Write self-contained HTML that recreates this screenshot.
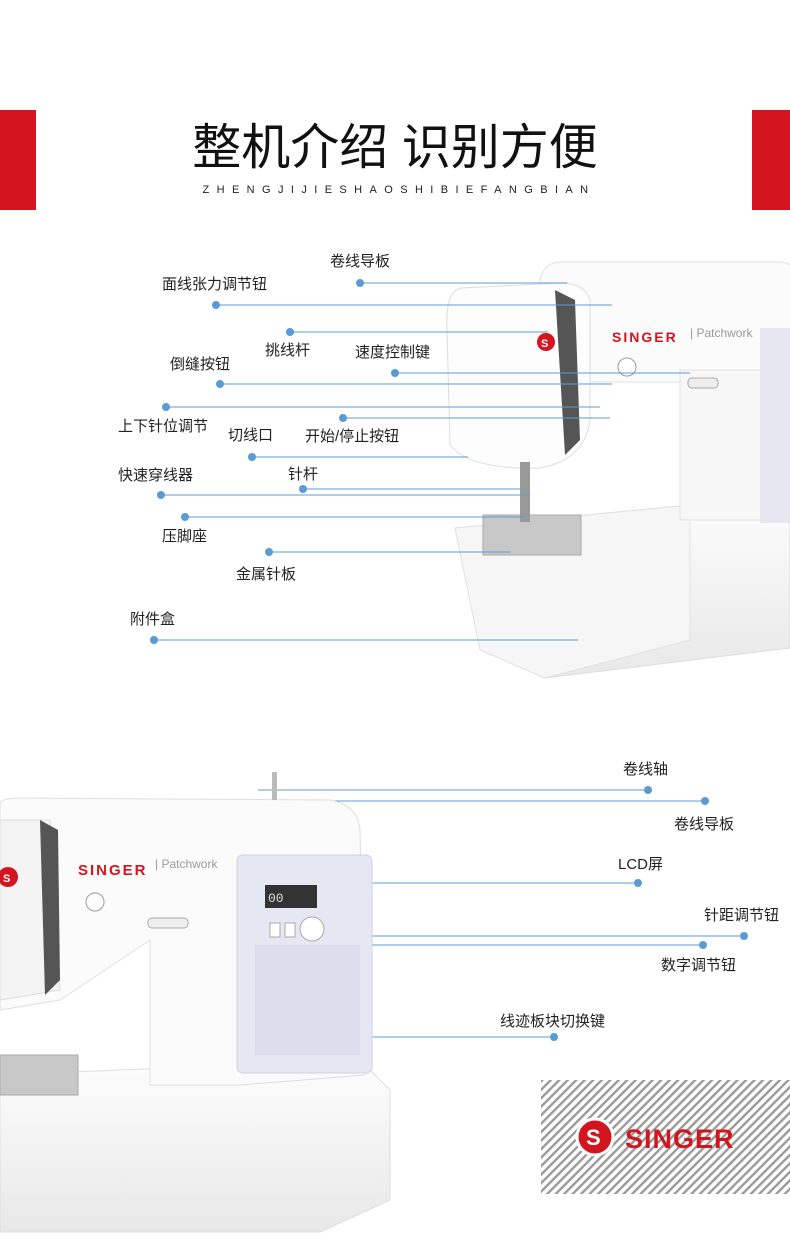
<!DOCTYPE html>
<html><head><meta charset="utf-8"><style>
body{margin:0;background:#fff;}
#w{position:relative;width:790px;height:1252px;overflow:hidden;background:#fff;font-family:"Liberation Sans","Noto Sans CJK SC",sans-serif;}
.t{position:absolute;font-size:15px;color:#222;white-space:nowrap;line-height:18px;}
svg{position:absolute;left:0;top:0;}
</style></head><body><div id="w">
<div style="position:absolute;left:0;top:110px;width:36px;height:100px;background:#d3151f"></div>
<div style="position:absolute;left:752px;top:110px;width:38px;height:100px;background:#d3151f"></div>
<div class="t" style="left:0;width:790px;text-align:center;top:118px;font-size:49px;line-height:60px;color:#111;">整机介绍 识别方便</div>
<div class="t" style="left:4px;width:790px;text-align:center;top:181px;font-size:11px;letter-spacing:7.4px;color:#222;">ZHENGJIJIESHAOSHIBIEFANGBIAN</div>

<svg width="790" height="1252" viewBox="0 0 790 1252">
<defs>
<pattern id="st" width="6" height="6" patternUnits="userSpaceOnUse" patternTransform="rotate(45)"><rect width="6" height="6" fill="#fff"/><rect width="2.4" height="6" fill="#9a9a9a"/></pattern>
<linearGradient id="g1" x1="0" y1="0" x2="0" y2="1"><stop offset="0" stop-color="#fdfdfd"/><stop offset="1" stop-color="#e8e8e8"/></linearGradient>
</defs>
<path d="M455 528 L790 495 L790 648 L545 678 L480 650 Z" fill="url(#g1)" stroke="#ddd"/>
<path d="M455 528 L690 505 L690 640 L545 678 L480 650 Z" fill="#f6f6f6" stroke="#e2e2e2"/>
<rect x="540" y="262" width="260" height="120" rx="20" fill="#fbfbfb" stroke="#e0e0e0"/>
<rect x="680" y="370" width="110" height="150" fill="#f7f7f7" stroke="#e2e2e2"/>
<rect x="760" y="328" width="30" height="195" fill="#e6e7f1"/>
<path d="M462 288 Q445 290 447 330 L450 445 Q470 470 540 468 Q585 460 590 420 L590 300 Q585 283 560 283 Z" fill="#fdfdfd" stroke="#dcdcdc"/>
<path d="M555 290 L575 300 L580 440 L565 455 Z" fill="#555"/>
<rect x="483" y="515" width="98" height="40" fill="#c8c8c8" stroke="#aaa"/>
<rect x="520" y="462" width="10" height="60" fill="#999"/>
<circle cx="546" cy="342" r="9" fill="#d3151f"/>
<text x="541" y="347" font-size="11" fill="#fff" font-weight="bold" font-family="Liberation Sans">S</text>
<text x="612" y="342" font-size="14" fill="#d3151f" font-weight="bold" letter-spacing="2" font-family="Liberation Sans">SINGER</text>
<text x="690" y="337" font-size="12" fill="#999" font-family="Liberation Sans">| Patchwork</text>
<circle cx="627" cy="367" r="9" fill="#fff" stroke="#999"/>
<rect x="688" y="378" width="30" height="10" rx="4" fill="#eee" stroke="#aaa"/>
<g stroke="#5b9bd5" stroke-width="1" fill="none">
<path d="M360 283H567M216 305H612M290 332H548M395 373H690M220 384H612M166 407H600M252 457H468M343 418H610M161 495H530M303 489H520M185 517H525M269 552H510M154 640H578"/>
<path d="M258 790H648M258 801H705M310 883H638M325 936H744M320 945H703M330 1037H554"/>
</g>
<g fill="#5b9bd5">
<circle cx="360" cy="283" r="4"/><circle cx="216" cy="305" r="4"/><circle cx="290" cy="332" r="4"/><circle cx="395" cy="373" r="4"/><circle cx="220" cy="384" r="4"/><circle cx="166" cy="407" r="4"/><circle cx="252" cy="457" r="4"/><circle cx="343" cy="418" r="4"/><circle cx="161" cy="495" r="4"/><circle cx="303" cy="489" r="4"/><circle cx="185" cy="517" r="4"/><circle cx="269" cy="552" r="4"/><circle cx="154" cy="640" r="4"/>
<circle cx="648" cy="790" r="4"/><circle cx="705" cy="801" r="4"/><circle cx="638" cy="883" r="4"/><circle cx="744" cy="936" r="4"/><circle cx="703" cy="945" r="4"/><circle cx="554" cy="1037" r="4"/>
</g>
<path d="M0 1075 L360 1060 L390 1090 L390 1200 L320 1232 L0 1232 Z" fill="url(#g1)" stroke="#ddd"/>
<path d="M0 805 Q0 798 20 798 L330 800 Q358 805 360 830 L365 1075 L240 1085 L150 1085 L150 940 L60 1000 L0 1010 Z" fill="#fbfbfb" stroke="#dedede"/>
<rect x="237" y="855" width="135" height="218" rx="6" fill="#e5e7f2" stroke="#d0d2e0"/>
<rect x="265" y="885" width="52" height="23" fill="#333"/>
<text x="268" y="902" font-size="13" fill="#ddd" font-family="Liberation Mono">00</text>
<rect x="255" y="945" width="105" height="110" fill="#dcdfeb"/>
<circle cx="312" cy="929" r="12" fill="#fff" stroke="#aaa"/>
<rect x="270" y="923" width="10" height="14" fill="#fff" stroke="#aaa"/><rect x="285" y="923" width="10" height="14" fill="#fff" stroke="#aaa"/>
<path d="M0 820 L50 820 L60 990 L0 1000 Z" fill="#f4f4f4" stroke="#ddd"/>
<path d="M40 820 L58 830 L60 980 L45 995 Z" fill="#555"/>
<rect x="0" y="1055" width="78" height="40" fill="#c8c8c8" stroke="#aaa"/>
<rect x="272" y="772" width="5" height="28" fill="#bbb"/>
<circle cx="8" cy="877" r="10" fill="#d3151f"/>
<text x="3" y="882" font-size="11" fill="#fff" font-weight="bold" font-family="Liberation Sans">S</text>
<text x="78" y="875" font-size="15" fill="#d3151f" font-weight="bold" letter-spacing="2" font-family="Liberation Sans">SINGER</text>
<text x="155" y="868" font-size="12" fill="#999" font-family="Liberation Sans">| Patchwork</text>
<circle cx="95" cy="902" r="9" fill="#fff" stroke="#999"/>
<rect x="148" y="918" width="40" height="10" rx="4" fill="#eee" stroke="#aaa"/>
<rect x="541" y="1080" width="249" height="114" fill="url(#st)"/>
<circle cx="595" cy="1137" r="18" fill="#d3151f" stroke="#fff" stroke-width="3"/>
<text x="586" y="1145" font-size="22" fill="#fff" font-weight="bold" font-family="Liberation Sans">S</text>
<text x="625" y="1148" font-size="27" fill="#d3151f" font-weight="bold" letter-spacing="1" font-family="Liberation Sans">SINGER</text>
</svg>

<div class="t" style="left:330px;top:253px">卷线导板</div>
<div class="t" style="left:162px;top:276px">面线张力调节钮</div>
<div class="t" style="left:265px;top:342px">挑线杆</div>
<div class="t" style="left:355px;top:344px">速度控制键</div>
<div class="t" style="left:170px;top:356px">倒缝按钮</div>
<div class="t" style="left:118px;top:418px">上下针位调节</div>
<div class="t" style="left:228px;top:427px">切线口</div>
<div class="t" style="left:305px;top:428px">开始/停止按钮</div>
<div class="t" style="left:118px;top:467px">快速穿线器</div>
<div class="t" style="left:288px;top:466px">针杆</div>
<div class="t" style="left:162px;top:528px">压脚座</div>
<div class="t" style="left:236px;top:566px">金属针板</div>
<div class="t" style="left:130px;top:611px">附件盒</div>
<div class="t" style="left:623px;top:761px">卷线轴</div>
<div class="t" style="left:674px;top:816px">卷线导板</div>
<div class="t" style="left:618px;top:856px">LCD屏</div>
<div class="t" style="left:704px;top:907px">针距调节钮</div>
<div class="t" style="left:661px;top:957px">数字调节钮</div>
<div class="t" style="left:500px;top:1013px">线迹板块切换键</div>
</div></body></html>
